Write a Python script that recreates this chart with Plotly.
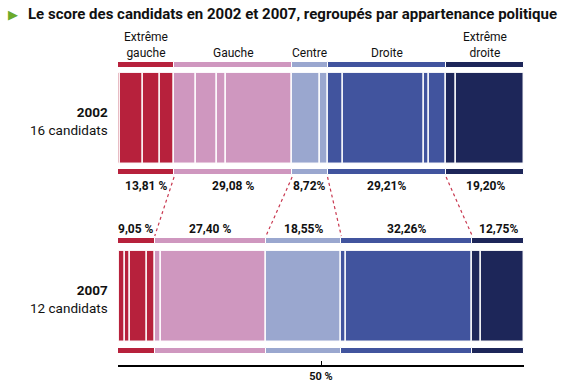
import plotly.graph_objects as go
import numpy as np

# ---- data ----
years = ["2002", "2007"]
n_candidates = ["16 candidats", "12 candidats"]
group_names = ["Extrême<br>gauche", "Gauche", "Centre", "Droite", "Extrême<br>droite"]

# candidate scores (%) per group, in drawing order
eg_2002 = [0.47, 5.72, 4.25, 3.37]
g_2002 = [5.33, 5.25, 2.32, 16.18]
c_2002 = [6.84, 1.88]
d_2002 = [3.91, 19.88, 1.19, 4.23]
ed_2002 = [2.34, 16.86]

eg_2007 = [0.34, 1.33, 1.32, 4.08, 1.98]
g_2007 = [1.57, 25.83]
c_2007 = [18.55]
d_2007 = [1.15, 31.11]
ed_2007 = [2.23, 10.52]

labels_2002 = ["13,81 %", "29,08 %", "8,72%", "29,21%", "19,20%"]
labels_2007 = ["9,05 %", "27,40 %", "18,55%", "32,26%", "12,75%"]
tick_vals = [50]
tick_text = ["50 %"]

# ---- style ----
group_colors = ["#B7213C", "#CF97BF", "#9AA7CF", "#41549E", "#1D2659"]
FONT = "Roboto"
W, H = 575, 385
ML, MR, MT, MB = 118, 51, 0, 20
PLOT_H = H - MT - MB  # y axis data units == pixels

rows = [
    dict(groups=[eg_2002, g_2002, c_2002, d_2002, ed_2002], labels=labels_2002,
         top=65, main=118.5, bot=172, label_y=186),
    dict(groups=[eg_2007, g_2007, c_2007, d_2007, ed_2007], labels=labels_2007,
         top=241, main=296.5, bot=351, label_y=229),
]

fig = go.Figure()
annotations = []
shapes = []

group_bounds = []
for ri, row in enumerate(rows):
    vals, cols, totals = [], [], []
    for gi, g in enumerate(row["groups"]):
        vals += g
        cols += [group_colors[gi]] * len(g)
        totals.append(sum(g))
    vals = np.array(vals)
    base = np.concatenate([[0], np.cumsum(vals)[:-1]])
    fig.add_trace(go.Bar(
        orientation="h", x=vals, base=base, y=[row["main"]] * len(vals), width=91,
        marker=dict(color=cols, line=dict(color="rgba(255,255,255,0.9)", width=1.5)),
        hoverinfo="skip", showlegend=False))
    totals = np.array(totals)
    gbase = np.concatenate([[0], np.cumsum(totals)[:-1]])
    group_bounds.append(np.cumsum(totals))
    for yy in (row["top"], row["bot"]):
        fig.add_trace(go.Bar(
            orientation="h", x=totals, base=gbase, y=[yy] * len(totals), width=6,
            marker=dict(color=group_colors, line=dict(color="white", width=1)),
            hoverinfo="skip", showlegend=False))
    mids = gbase + totals / 2
    for gi, m in enumerate(mids):
        annotations.append(dict(x=m, y=row["label_y"], xref="x", yref="y",
                                text="<b>%s</b>" % row["labels"][gi], showarrow=False,
                                font=dict(family=FONT, size=12, color="#111")))
        if ri == 0:
            annotations.append(dict(x=m, y=62, xref="x", yref="y", yanchor="bottom",
                                    text=group_names[gi], showarrow=False,
                                    font=dict(family=FONT, size=12, color="#111")))
    # row label
    annotations.append(dict(x=(110 - ML) / (W - ML - MR), xref="paper", y=row["main"] + 2.5, yref="y",
                            xanchor="right", align="right", showarrow=False,
                            text="<b>%s</b><br>%s" % (years[ri], n_candidates[ri]),
                            font=dict(family=FONT, size=13.5, color="#111")))

# dotted connector lines between group boundaries
for b0, b1 in zip(group_bounds[0][:-1], group_bounds[1][:-1]):
    shapes.append(dict(type="line", xref="x", yref="y", x0=b0, y0=177, x1=b1, y1=236,
                       line=dict(color="#C8374F", width=1.2, dash="dot")))

# title
annotations.append(dict(x=-(ML - 26) / (W - ML - MR), xref="paper", y=14, yref="y",
                        xanchor="left", showarrow=False,
                        text="<b>Le score des candidats en 2002 et 2007, regroupés par appartenance politique</b>",
                        font=dict(family=FONT, size=15, color="#111")))
annotations.append(dict(x=-(ML - 6) / (W - ML - MR), xref="paper", y=14, yref="y",
                        xanchor="left", showarrow=False, text="▶",
                        font=dict(family="DejaVu Sans", size=13, color="#6BAA2C")))

fig.update_layout(
    width=W, height=H, margin=dict(l=ML, r=MR, t=MT, b=MB),
    paper_bgcolor="white", plot_bgcolor="white",
    barmode="overlay", bargap=0,
    xaxis=dict(range=[0, 100], showgrid=False, zeroline=False, showline=True,
               linecolor="black", linewidth=1.5, ticks="inside", ticklen=4,
               tickcolor="black", tickvals=tick_vals,
               ticktext=["<b>%s</b>" % t for t in tick_text],
               tickfont=dict(family=FONT, size=11, color="#111"), fixedrange=True),
    yaxis=dict(range=[PLOT_H, 0], visible=False, fixedrange=True),
    annotations=annotations, shapes=shapes,
)

fig.write_html("out.html", config={"displayModeBar": False},
               post_script="document.body.style.margin='0';")
